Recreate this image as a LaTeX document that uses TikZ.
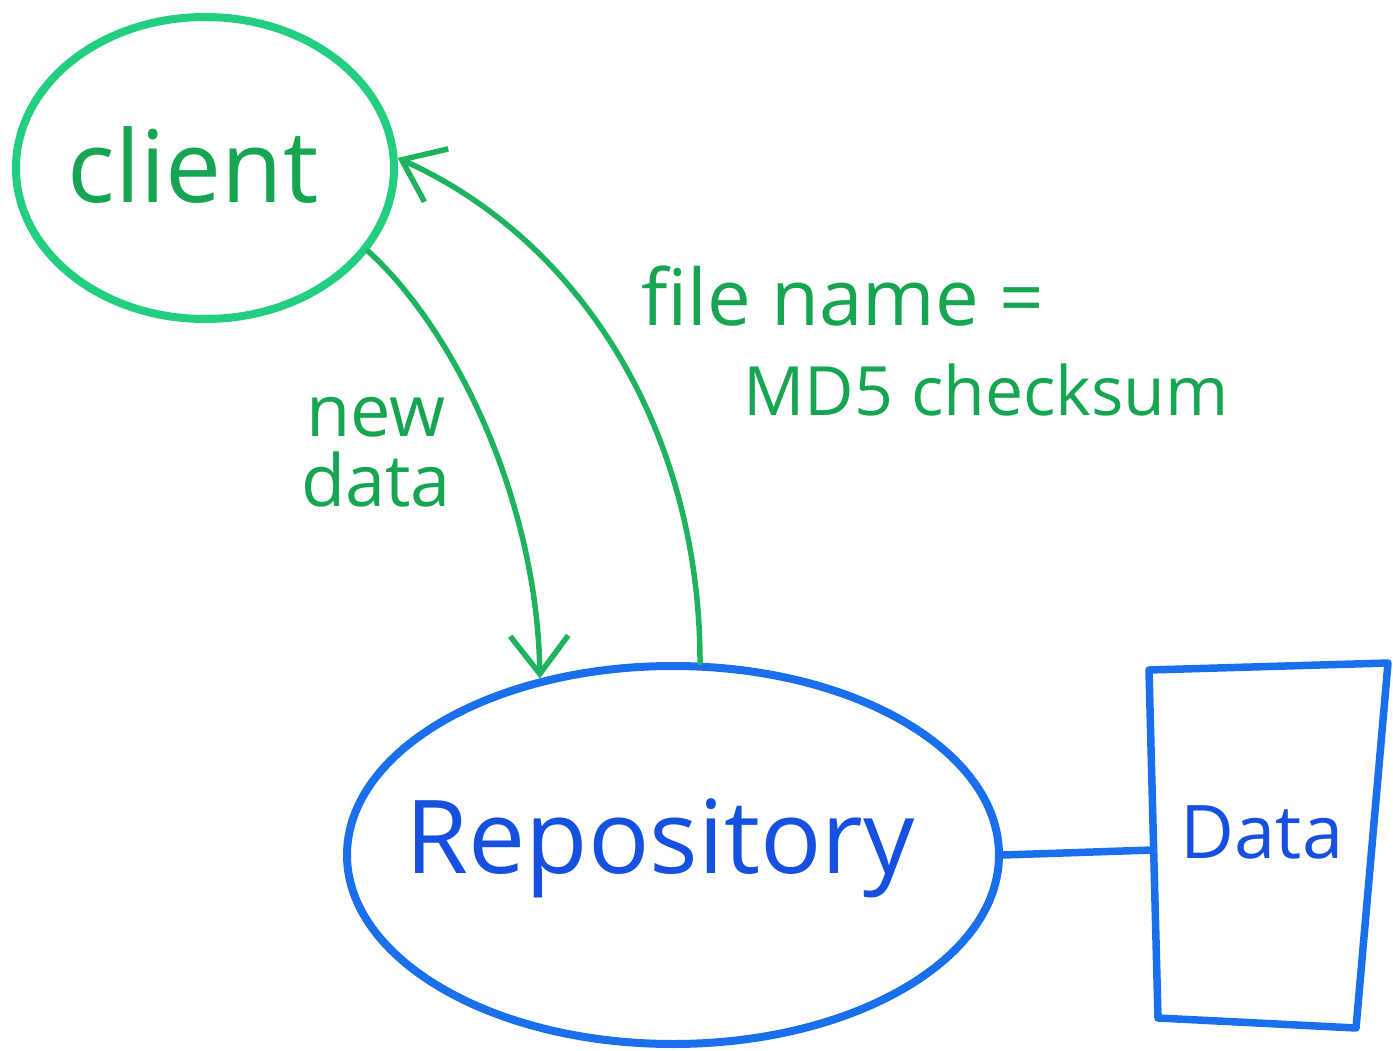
\documentclass[tikz,border=0pt]{standalone}
\usepackage{fontspec}
\setmainfont{Open Sans}
\usetikzlibrary{arrows.meta,shapes.geometric}
\definecolor{gline}{RGB}{34,206,128}
\definecolor{garrow}{RGB}{30,180,95}
\definecolor{gtext}{RGB}{22,165,80}
\definecolor{bline}{RGB}{26,112,236}
\definecolor{btext}{RGB}{22,80,225}
\tikzset{
  greenell/.style={ellipse,draw=gline,line width=8pt},
  blueell/.style={ellipse,draw=bline,line width=8pt},
  flow/.style={draw=garrow,line width=5.5pt,line cap=round,-{Straight Barb[length=38pt,width=58pt]}},
  lbl/.style={text=gtext,font=\fontsize{72}{80}\selectfont,align=center},
  bluebox/.style={draw=bline,line width=7.5pt,line join=round},
}
\begin{document}
\begin{tikzpicture}[x=1pt,y=-1pt]
\useasboundingbox (0,0) rectangle (1393,1051);
\node[greenell,minimum width=378pt,minimum height=302pt] (client) at (205,168) {};
\node[text=gtext,font=\fontsize{100}{110}\selectfont] (clientlbl) at (193,165) {client};
\node[blueell,minimum width=652pt,minimum height=378pt] (repo) at (673,855) {};
\node[text=btext,font=\fontsize{102}{110}\selectfont] (repolbl) at (660,848) {Repository};
% data store
\coordinate (dtl) at (1149,670);
\coordinate (dtr) at (1388,663);
\coordinate (dbr) at (1356,1028);
\coordinate (dbl) at (1158,1018);
\coordinate (dl) at (1153,850);
\draw[bluebox] (dtl) -- (dtr) -- (dbr) -- (dbl) -- cycle;
\node[text=btext,font=\fontsize{74}{80}\selectfont] (data) at (1262,832) {Data};
\draw[draw=bline,line width=7.5pt] (repo.east) -- (dl);
% arrows
\draw[flow] (client.-27) .. controls (455,330) and (537,500) .. (repo.127);
\draw[flow] (repo.82) .. controls (700,430) and (580,240) .. (client.3);
% labels
\node[lbl,anchor=center] (lnew) at (376,452) {new\\[-10pt]data};
\node[lbl,anchor=west,font=\fontsize{78}{84}\selectfont] (lfile) at (638,296) {file name =};
\node[lbl,anchor=west,font=\fontsize{68}{76}\selectfont] (lmd5) at (740,390) {MD5 checksum};
\end{tikzpicture}
\end{document}
